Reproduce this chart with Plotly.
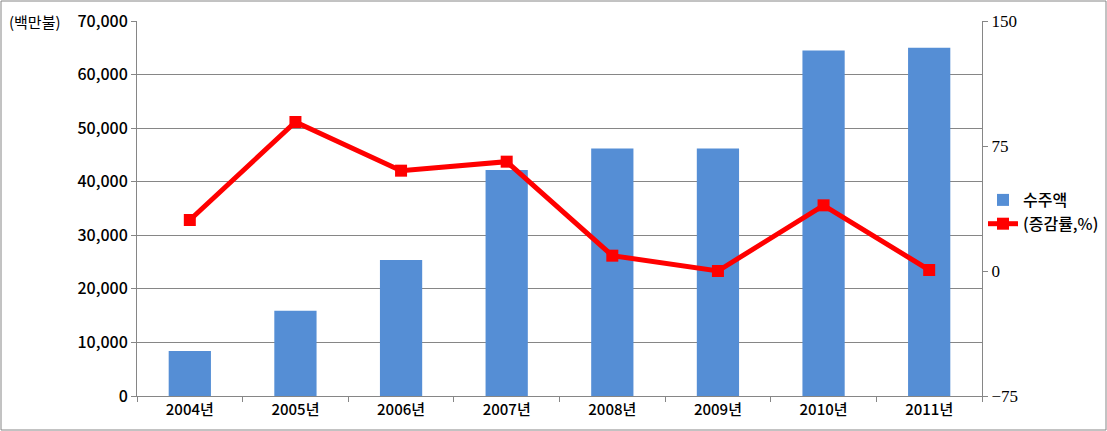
import plotly.graph_objects as go

categories = ["2004년", "2005년", "2006년", "2007년", "2008년", "2009년", "2010년", "2011년"]
orders = [8400, 15900, 25400, 42200, 46200, 46200, 64500, 65000]
growth = [30.6, 89.4, 60.2, 65.6, 9.2, 0.0, 39.4, 0.6]

W, H = 1107, 431
L, R, T, B = 137, 1107 - 982, 21, 431 - 396
pw, ph = W - L - R, H - T - B

font_kr = "Noto Sans CJK KR"
grid = "#868686"

fig = go.Figure()
fig.add_trace(go.Bar(
    x=categories, y=orders, name="수주액",
    marker=dict(color="#558ED5", line=dict(width=0)),
    width=0.4, yaxis="y",
))
fig.add_trace(go.Scatter(
    x=categories, y=growth, name="(증감률,%)", yaxis="y2",
    mode="lines+markers",
    line=dict(color="#FF0000", width=5),
    marker=dict(symbol="square", size=12, color="#FF0000"),
))

fig.update_layout(
    width=W, height=H,
    margin=dict(l=L, r=R, t=T, b=B, autoexpand=False),
    paper_bgcolor="white", plot_bgcolor="white",
    font=dict(family=font_kr, size=15, color="black"),
    showlegend=True,
    legend=dict(x=(983 - L) / pw, y=(396 - 183) / ph, xanchor="left", yanchor="top",
                font=dict(family=font_kr, size=16, color="black", weight=500),
                bgcolor="rgba(0,0,0,0)", itemwidth=30),
    xaxis=dict(
        showgrid=False, showline=True, linecolor=grid, linewidth=1,
        ticks="outside", ticklen=5, tickcolor=grid, tickson="boundaries",
        tickfont=dict(family=font_kr, size=15, color="black", weight=500),
    ),
    yaxis=dict(
        range=[0, 70000], dtick=10000, tickformat=",",
        showgrid=True, gridcolor=grid, gridwidth=1,
        showline=True, linecolor=grid, linewidth=1,
        ticks="outside", ticklen=5, tickcolor=grid,
        tickfont=dict(family=font_kr, size=16, color="black", weight=500), zeroline=False,
    ),
    yaxis2=dict(
        range=[-75, 150], dtick=75, overlaying="y", side="right",
        showgrid=False, zeroline=False,
        showline=True, linecolor=grid, linewidth=1,
        ticks="outside", ticklen=5, tickcolor=grid,
        tickfont=dict(family="Liberation Serif", size=17, color="black"),
    ),
    annotations=[dict(
        text="(백만불)", xref="paper", yref="paper",
        x=(7 - L) / pw, y=1.0, xanchor="left", yanchor="middle",
        showarrow=False, font=dict(family=font_kr, size=15, color="black"),
    )],
    shapes=[dict(
        type="rect", xref="paper", yref="paper",
        x0=(1 - L) / pw, x1=(1106 - L) / pw,
        y0=(396 - 430) / ph, y1=(396 - 1) / ph,
        line=dict(color=grid, width=1), layer="below",
    )],
)

fig.write_html("out.html")
